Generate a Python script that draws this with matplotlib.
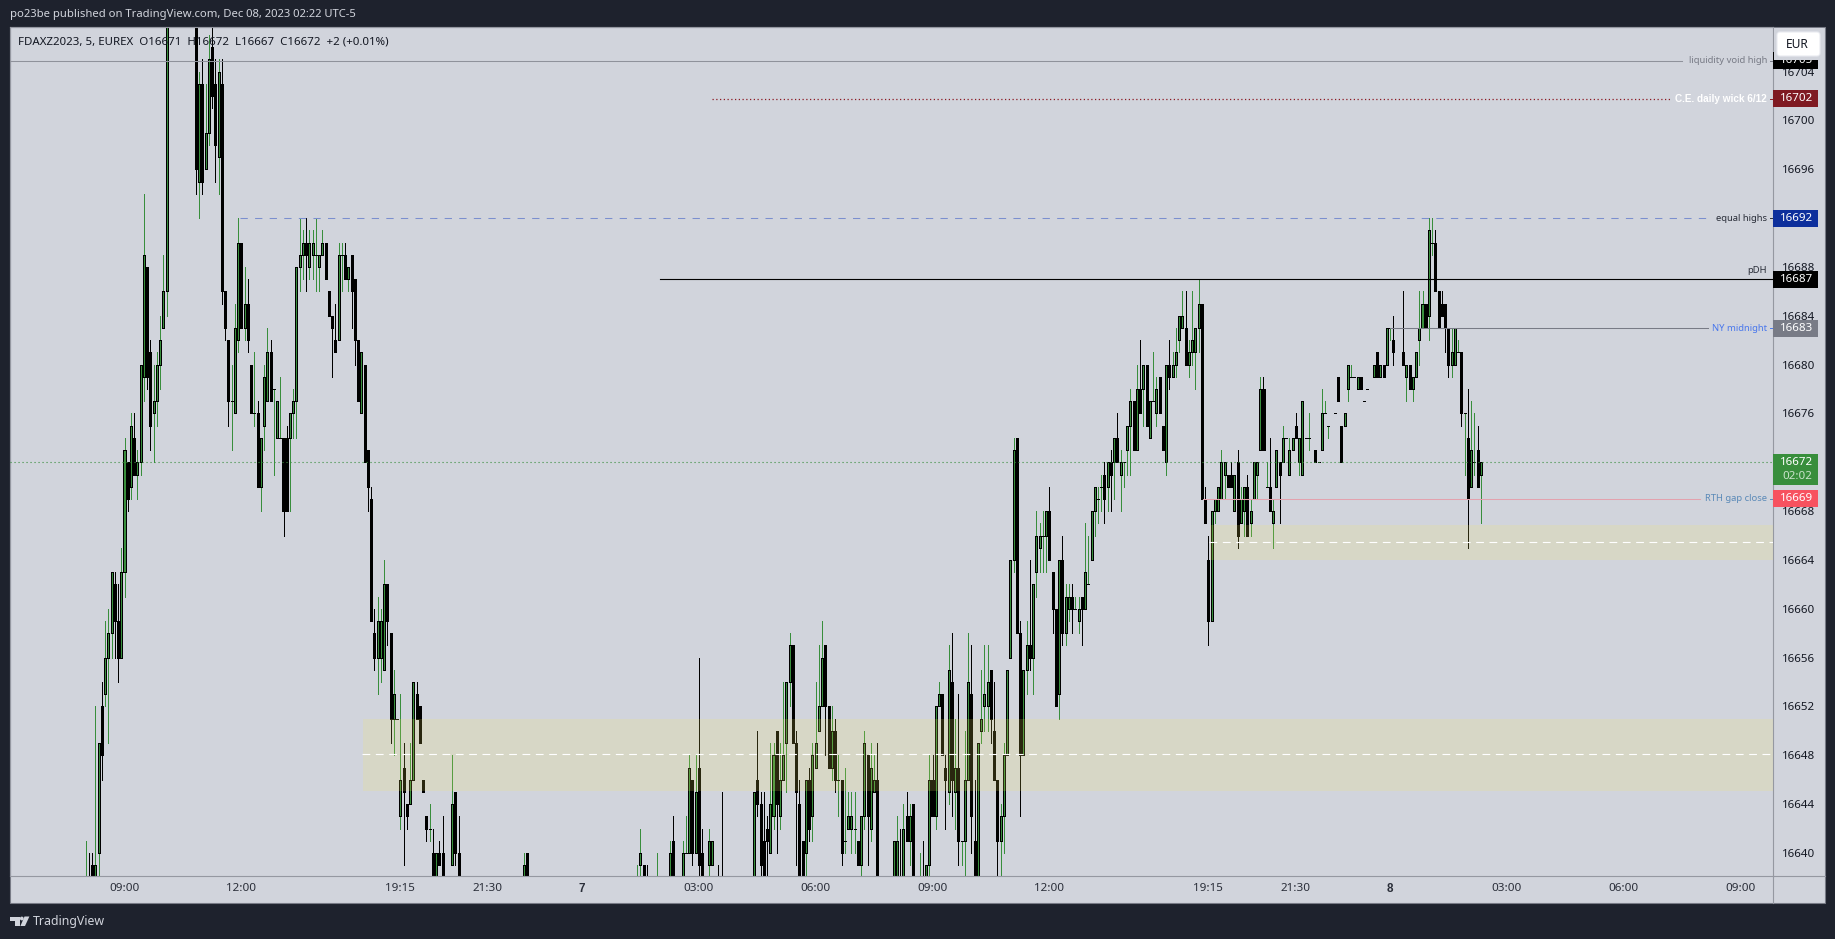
import numpy as np
import matplotlib
matplotlib.use("Agg")
import matplotlib.pyplot as plt
from matplotlib.patches import Rectangle, Polygon, Circle, FancyBboxPatch

plt.rcParams['font.family'] = ['Noto Sans', 'DejaVu Sans']

# bar number counted from 09:00 on the first day, prices are 16600 + value
BAR_INDEX = (list(range(-12, 14)) + list(range(22, 99)) + [101, 102, 103, 123, 124]
             + [158, 159, 160, 161, 164, 168, 169, 172, 173, 174, 175, 176, 177, 178, 180, 181, 183, 184]
             + list(range(194, 233)) + list(range(237, 244)) + list(range(245, 366))
             + list(range(367, 372)) + list(range(373, 384)) + list(range(385, 392)) + list(range(394, 419)))

OPENS = [
    30,31,39,30,40,52,53,56,58,62,59,56,63,72,70,74,71,72,79,88,81,76,77,80,83,86,
    112,95,103,96,99,106,103,97,103,86,
    82,77,76,82,90,83,85,80,76,76,
    70,75,77,81,78,74,74,74,74,74,
    76,77,88,89,90,88,89,89,88,89,
    90,86,84,82,82,89,89,87,89,87,
    82,76,80,73,69,58,56,56,55,62,
    58,51,51,43,47,44,44,46,53,52,
    46,43,42,40,30,40,40,
    39,45,40,30,40,
    30,39,39,31,30,30,41,30,40,40,46,40,47,40,39,39,31,31,
    30,46,44,41,42,40,43,50,43,46,49,54,57,49,44,41,40,46,43,47,
    50,52,57,52,47,50,46,46,41,42,42,42,41,39,43,48,42,45,46,
    30,30,31,30,43,41,44,
    30,31,30,39,46,43,52,53,47,45,
    54,45,47,41,41,46,53,41,30,50,
    52,52,55,50,46,41,43,48,56,64,
    74,58,48,55,57,56,63,65,66,66,
    68,63,60,53,64,58,60,61,60,59,
    61,60,62,64,68,69,70,71,70,72,
    72,74,71,72,73,75,77,73,78,78,
    80,74,77,76,79,75,72,80,79,80,
    82,83,83,80,81,81,83,85,69,64,
    59,68,68,69,71,71,71,68,72,67,
    68,70,67,69,71,73,78,70,70,67,
    70,72,72,74,71,73,75,72,71,74,74,
    73,72,73,76,75,
    76,79,75,75,78,79,79,78,79,77,78,
    79,81,79,80,80,83,82,
    81,79,80,78,79,82,83,85,84,90,90,86,85,85,83,80,80,81,81,76,74,70,72,73,71,
]
HIGHS = [
    41,40,40,52,49,54,59,60,63,63,62,65,74,72,76,76,73,80,94,88,82,80,81,84,89,112,
    112,104,105,103,107,112,105,105,105,86,
    82,80,85,92,90,88,87,80,81,77,
    74,80,83,82,78,77,79,74,75,76,
    78,88,92,91,92,91,91,92,89,91,
    90,86,84,85,90,90,90,88,89,87,
    82,81,80,73,70,60,61,60,64,62,
    58,55,51,53,49,44,49,54,54,52,
    46,43,44,42,40,41,43,
    48,45,43,40,40,
    39,42,39,39,40,41,43,41,43,48,46,48,56,42,42,41,39,45,
    45,50,45,45,43,49,49,50,49,54,54,58,57,50,46,41,46,47,49,54,
    57,59,57,52,52,51,48,46,47,45,45,45,41,43,50,48,49,48,49,
    41,43,42,44,45,44,44,
    40,41,39,48,48,52,54,53,48,57,
    58,51,53,41,50,58,57,46,49,55,
    57,57,55,54,46,44,49,55,64,74,
    74,59,55,59,64,62,68,67,68,68,
    70,63,60,64,66,62,62,62,61,61,
    61,67,66,68,70,70,71,72,72,73,
    74,76,73,72,75,78,77,80,82,80,
    80,77,81,79,79,75,80,82,81,83,
    84,86,86,82,86,83,87,85,70,66,
    68,69,70,73,72,71,72,71,73,70,
    70,71,69,72,72,79,79,72,74,69,
    73,72,75,74,74,74,76,74,77,74,76,
    73,72,78,77,75,
    76,79,75,76,80,80,79,79,79,77,78,
    80,81,80,80,83,83,84,
    86,80,80,79,81,86,86,85,92,92,91,86,86,85,83,83,83,82,81,76,78,77,76,75,72,
]
LOWS = [
    30,30,30,30,30,46,52,49,56,56,54,56,61,68,69,71,69,71,77,78,73,72,75,78,83,84,
    94,92,94,96,98,101,95,94,85,82,
    75,73,76,81,83,82,81,76,75,70,
    68,73,77,77,71,74,74,66,68,68,
    74,74,86,87,86,87,87,86,86,89,
    87,84,79,81,82,86,87,86,83,80,
    77,76,72,68,59,55,53,54,55,57,
    49,48,51,42,39,42,44,46,51,49,
    45,41,41,30,30,39,30,
    39,39,30,30,30,
    30,38,30,30,30,30,30,30,40,40,39,40,38,30,30,39,30,30,
    30,43,38,30,30,40,42,40,42,46,45,52,49,39,30,30,30,41,41,47,
    50,52,48,47,46,45,43,39,40,42,40,40,39,30,42,39,41,45,30,
    30,30,30,30,41,39,30,
    30,30,30,30,43,42,52,48,42,44,
    43,42,39,39,30,46,40,30,30,49,
    50,50,49,46,30,30,40,48,56,63,
    58,43,48,53,55,53,61,63,63,63,
    64,58,52,51,57,57,59,58,60,58,
    57,60,62,64,66,67,68,67,68,68,
    69,72,68,70,71,71,73,73,76,75,
    75,74,77,75,76,73,71,78,79,79,
    81,83,80,79,80,78,81,69,67,57,
    59,67,68,69,69,70,70,68,65,67,
    66,66,66,69,69,73,73,70,68,65,
    70,67,72,74,71,73,74,71,71,74,73,
    72,72,73,76,74,
    76,77,72,75,77,79,79,78,78,77,78,
    79,79,79,79,80,82,80,
    80,77,78,77,79,80,83,83,82,89,86,83,84,81,79,79,80,81,75,71,65,70,71,70,67,
]
CLOSES = [
    30,30,30,39,49,48,56,58,63,59,56,63,73,69,75,71,72,80,89,79,75,77,80,82,86,112,
    96,103,95,99,105,102,98,104,86,83,
    77,77,83,90,83,85,82,76,76,70,
    74,79,81,77,78,77,74,68,68,76,
    77,88,89,90,89,90,90,89,89,90,
    87,84,83,81,89,89,87,88,86,82,
    77,81,72,70,59,56,59,59,62,59,
    51,53,51,46,45,43,46,54,51,49,
    45,42,42,30,40,39,30,
    44,40,30,39,30,
    30,40,30,30,30,40,30,40,40,47,40,45,39,30,41,41,30,30,
    45,44,39,30,41,44,48,44,46,48,54,57,49,45,30,30,46,42,48,49,
    52,56,52,47,50,46,46,40,41,43,43,42,39,43,49,43,47,46,30,
    41,41,30,42,41,43,30,
    30,30,39,46,43,52,53,48,46,55,
    46,47,41,41,46,54,43,30,49,51,
    53,54,51,46,41,43,48,55,64,73,
    58,48,55,57,56,62,66,66,66,68,
    64,60,52,64,58,61,61,60,60,60,
    60,63,62,68,70,69,70,69,72,71,
    74,72,72,72,75,77,73,78,76,80,
    75,77,77,78,76,73,80,79,80,81,
    84,84,80,81,82,83,85,69,67,59,
    68,69,70,72,72,70,70,71,66,69,
    70,66,68,72,72,78,73,70,68,68,
    73,71,74,74,73,74,74,74,77,74,74,
    72,72,76,76,75,
    76,77,72,76,80,79,79,79,78,77,78,
    80,79,80,79,83,83,81,
    80,80,78,79,81,83,85,83,91,90,86,83,84,83,80,81,83,81,76,76,69,73,72,70,72,
]

TIME_TICKS = [0, 36, 85, 112, 141, 177, 213, 249, 285, 334, 361, 390, 426, 462, 498]
TIME_LABELS = ['09:00', '12:00', '19:15', '21:30', '7', '03:00', '06:00', '09:00',
               '12:00', '19:15', '21:30', '8', '03:00', '06:00', '09:00']
PRICE_TICKS = list(range(16640, 16705, 4))

ZONE_LOW = [16645.1, 16664.0]
ZONE_HIGH = [16650.95, 16666.9]
ZONE_MID = [16648.1, 16665.5]
ZONE_START = [73.5, 334.5]

W, H = 1835, 939
BG = '#1e222d'
PANE = '#d1d4dc'
GREEN = '#388e3c'
LEFT, RIGHT, TOP, BOTTOM = 10, 1773, 27, 876.4

fig = plt.figure(figsize=(W / 100, H / 100), dpi=100, facecolor=BG)

# pixel layer for the frame and the footer
bg = fig.add_axes([0, 0, 1, 1], zorder=0)
bg.set_xlim(0, W)
bg.set_ylim(H, 0)
bg.axis('off')
bg.add_patch(Rectangle((LEFT, TOP), 1824.7 - LEFT, 903.3 - TOP, fc=PANE, ec='#787b86', lw=0.8))
bg.plot([RIGHT, RIGHT], [BOTTOM, 903.3], color='#9598a1', lw=0.8)
bg.plot([RIGHT, 1824.7], [BOTTOM, BOTTOM], color='#9598a1', lw=0.8)
bg.text(10, 15, 'po23be published on TradingView.com, Dec 08, 2023 02:22 UTC-5',
        color='#d1d4dc', fontsize=8.1, va='center')
bg.text(33, 921, 'TradingView', color='#d1d4dc', fontsize=8.9, va='center')
bg.add_patch(Polygon([(10, 916.5), (19.5, 916.5), (19.5, 926), (14.5, 926), (14.5, 920.5), (10, 920.5)], fc='#d1d4dc', ec='none'))
bg.add_patch(Circle((21.8, 918.5), 1.9, fc='#d1d4dc', ec='none'))
bg.add_patch(Polygon([(24.5, 916.5), (29.4, 916.5), (25, 926), (20.4, 926)], fc='#d1d4dc', ec='none'))

ax = fig.add_axes([LEFT / W, 1 - BOTTOM / H, (RIGHT - LEFT) / W, (BOTTOM - TOP) / H], zorder=1)
ax.patch.set_alpha(0)
px0, bar_px = 124.5, 3.245
ax.set_xlim((LEFT - px0) / bar_px, (RIGHT - px0) / bar_px)
ax.set_ylim(16700 + (120.5 - BOTTOM) / 12.208, 16700 + (120.5 - TOP) / 12.208)

idx = np.array(BAR_INDEX)
o, h, l, c = [16600 + np.array(v) for v in (OPENS, HIGHS, LOWS, CLOSES)]
up = c >= o

ax.vlines(idx[up], l[up], h[up], color=GREEN, lw=0.72, zorder=2, antialiased=False)
ax.vlines(idx[~up], l[~up], h[~up], color='black', lw=0.72, zorder=2, antialiased=False)
ax.bar(idx[up], (c - o)[up], bottom=o[up], width=0.62, color=GREEN, edgecolor='black', linewidth=0.72, zorder=2.1,
       antialiased=False)
ax.bar(idx[~up], (c - o)[~up], bottom=o[~up], width=0.62, color='black', edgecolor='black', linewidth=0.72, zorder=2.1,
       antialiased=False)

# zones sit over the candles
x_end = ax.get_xlim()[1]
for start, lo, hi, mid in zip(ZONE_START, ZONE_LOW, ZONE_HIGH, ZONE_MID):
    ax.add_patch(Rectangle((start, lo), x_end - start, hi - lo, fc='#f7eb5e', alpha=0.17, ec='none', zorder=3))
    ax.plot([start - 0.3, x_end], [mid, mid], color='white', lw=0.8, dashes=(7, 5), zorder=3.1)

def fx(px):
    return (px - LEFT) / (RIGHT - LEFT)

def bar_x(px):
    return (px - px0) / bar_px

ytrans = ax.get_yaxis_transform()

# drawn levels with their labels
ax.plot([ax.get_xlim()[0], bar_x(1682)], [16704.9] * 2, color='#8f929b', lw=0.75, zorder=3)
ax.plot([bar_x(712), bar_x(1672)], [16701.8] * 2, color='#8b1a24', lw=0.9, dashes=(1, 2), zorder=3)
ax.plot([bar_x(240), bar_x(1707)], [16692] * 2, color='#7b8fcf', lw=0.75, dashes=(7, 7), zorder=3)
ax.plot([bar_x(660), x_end], [16687] * 2, color='black', lw=0.8, zorder=3)
ax.plot([bar_x(1390), bar_x(1708)], [16683] * 2, color='#787b86', lw=0.75, zorder=3)
ax.plot([bar_x(1203), bar_x(1700)], [16669] * 2, color='#e3a2ae', lw=0.75, zorder=3)
ax.plot(ax.get_xlim(), [16672] * 2, color=GREEN, lw=0.8, dashes=(1, 2.6), zorder=3)

LINE_LABELS = [('liquidity void high', 16704.9, '#787b86', 'normal'),
               ('equal highs', 16692, '#2a2e39', 'normal'),
               ('NY midnight', 16683, '#4a78ec', 'normal'),
               ('RTH gap close', 16669, '#5b8ab8', 'normal')]
for text, price, colour, weight in LINE_LABELS:
    ax.text(fx(1767), price, text, transform=ytrans, ha='right', va='center', color=colour,
            fontsize=6.8, fontweight=weight, zorder=4)
    ax.plot([fx(1770), fx(1773)], [price, price], transform=ytrans, color=colour, lw=0.7, zorder=4, clip_on=False)
ax.text(fx(1767), 16701.8, 'C.E. daily wick 6/12', transform=ytrans, ha='right', va='center', color='white',
        family='Liberation Sans', fontsize=7.2, fontweight='bold', zorder=4)
ax.plot([fx(1770), fx(1773)], [16701.8, 16701.8], transform=ytrans, color='#8b1a24', lw=0.7, zorder=4, clip_on=False)
ax.text(fx(1767), 16687.75, 'pDH', transform=ytrans, ha='right', va='center', color='#2a2e39', fontsize=6.8, zorder=4)

ax.text(fx(18), 16700 + (120.5 - 42) / 12.208, 'FDAXZ2023, 5, EUREX  O16671  H16672  L16667  C16672  +2 (+0.01%)',
        transform=ytrans, color='#131722', fontsize=8.27, va='center', zorder=5)

ax.yaxis.tick_right()
ax.set_yticks(PRICE_TICKS)
ax.set_yticklabels([str(p) for p in PRICE_TICKS], fontsize=8.33, color='#131722')
ax.set_xticks(TIME_TICKS)
ax.set_xticklabels(TIME_LABELS, fontsize=8.4, color='#2a2e39')
for lab in ax.get_xticklabels():
    if lab.get_text() in ('7', '8'):
        lab.set_family('Liberation Sans')
        lab.set_fontweight('bold')
ax.tick_params(axis='y', length=0, pad=6.5)
ax.tick_params(axis='x', length=0, pad=5)
for s in ax.spines.values():
    s.set_color('#9598a1')
    s.set_linewidth(0.8)

# price tags on the scale, 17 px tall
TAGS = [(16704.9, 'black', '16705'),
        (16701.8, '#7f1a22', '16702'),
        (16692, '#0d2f9c', '16692'),
        (16687, 'black', '16687'),
        (16683, '#787b86', '16683'),
        (16669, '#f7525f', '16669')]
tag_h = 17 / 12.208
for price, fc, text in TAGS:
    ax.add_patch(Rectangle((1, price - tag_h / 2), fx(1818) - 1, tag_h, transform=ytrans, fc=fc, ec='none',
                           clip_on=False, zorder=5))
    ax.text(fx(1797), price, text, transform=ytrans, ha='center', va='center', color='white', fontsize=8.33,
            fontweight='medium', clip_on=False, zorder=6)
ax.add_patch(Rectangle((1, 16672 - 22.5 / 12.208), fx(1818) - 1, 31 / 12.208, transform=ytrans, fc=GREEN,
                       ec='none', clip_on=False, zorder=5))
ax.text(fx(1797), 16672, '16672', transform=ytrans, ha='center', va='center', color='white', fontsize=8.33,
        clip_on=False, zorder=6)
ax.text(fx(1797), 16672 - 14.5 / 12.208, '02:02', transform=ytrans, ha='center', va='center', color='#c9e3ca',
        fontsize=8.33, clip_on=False, zorder=6)

# EUR button hides the top of the first tag
bg_top = fig.add_axes([0, 0, 1, 1], zorder=2)
bg_top.set_xlim(0, W)
bg_top.set_ylim(H, 0)
bg_top.axis('off')
bg_top.add_patch(Rectangle((1774, 28), 49, 32, fc=PANE, ec='none'))
bg_top.add_patch(FancyBboxPatch((1779, 34), 39, 20, boxstyle='round,pad=2,rounding_size=3', fc='white', ec='#e9ebf0', lw=0.8))
bg_top.text(1797, 44.5, 'EUR', color='#131722', fontsize=8.6, ha='center', va='center')

fig.savefig('out.png', dpi=100, facecolor=BG)
